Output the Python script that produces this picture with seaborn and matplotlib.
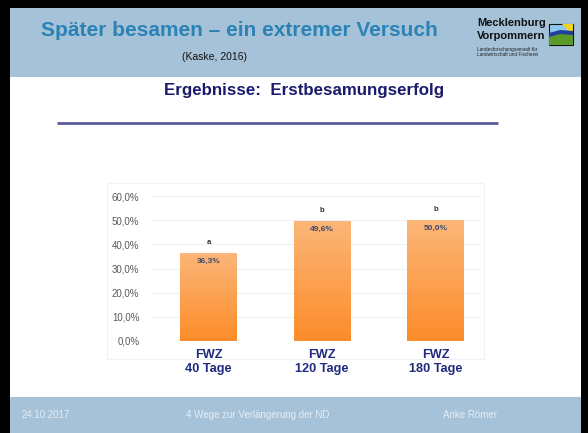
import numpy as np
import pandas as pd
import matplotlib
matplotlib.use("Agg")
import matplotlib.pyplot as plt
from matplotlib.patches import Rectangle, Polygon
from matplotlib.colors import LinearSegmentedColormap
from matplotlib.transforms import blended_transform_factory
import seaborn as sns

# Erstbesamungserfolg nach freiwilliger Wartezeit (FWZ)
categories = ["FWZ\n40 Tage", "FWZ\n120 Tage", "FWZ\n180 Tage"]
success = [36.3, 49.6, 50.0]
value_labels = ["36,3%", "49,6%", "50,0%"]
sig_letters = ["a", "b", "b"]
y_ticks = [0, 10, 20, 30, 40, 50, 60]
y_tick_labels = ["0,0%", "10,0%", "20,0%", "30,0%", "40,0%", "50,0%", "60,0%"]

sns.set_style("white")
plt.rcParams["font.family"] = ["Liberation Sans", "DejaVu Sans"]

W, H = 588, 433
fig = plt.figure(figsize=(W / 100, H / 100), dpi=100, facecolor="black")

# slide background, header and footer bands (pixel coordinates)
bg = fig.add_axes([0, 0, 1, 1], zorder=0)
bg.set_xlim(0, W)
bg.set_ylim(H, 0)
bg.axis("off")
band = "#a5c2d8"
bg.add_patch(Rectangle((10, 8), 571, H - 8, facecolor="white", edgecolor="none"))
bg.add_patch(Rectangle((10, 8), 571, 69, facecolor=band, edgecolor="none"))
bg.add_patch(Rectangle((10, 397), 571, H - 397, facecolor=band, edgecolor="none"))

bg.text(239, 31, "Später besamen – ein extremer Versuch", ha="center", va="center",
        fontsize=15, fontweight="bold", color="#2b82b4")
bg.text(215, 57, "(Kaske, 2016)", ha="center", va="center", fontsize=7.5, color="#111111")

# logo
bg.text(477, 23, "Mecklenburg", ha="left", va="center", fontsize=8, fontweight="bold", color="#111111")
bg.text(477, 36, "Vorpommern", ha="left", va="center", fontsize=8, fontweight="bold", color="#111111")
bg.text(477, 49, "Landesforschungsanstalt für", ha="left", va="center", fontsize=3.4, color="#222222")
bg.text(477, 54, "Landwirtschaft und Fischerei", ha="left", va="center", fontsize=3.4, color="#222222")
bg.add_patch(Rectangle((549, 24), 24, 21, facecolor="#8ec8ee", edgecolor="#111111", lw=0.8))
bg.add_patch(Polygon([(562, 24), (573, 24), (573, 36)], facecolor="#f2d21b", edgecolor="none"))
bg.add_patch(Polygon([(549, 36), (560, 33), (573, 34), (573, 45), (549, 45)], facecolor="#5a9a2a", edgecolor="none"))
bg.add_patch(Polygon([(549, 33), (560, 30), (573, 31), (573, 35), (560, 34), (549, 37)], facecolor="#1f3f9a", edgecolor="none"))

bg.text(304, 90, "Ergebnisse:  Erstbesamungserfolg", ha="center", va="center",
        fontsize=12.2, fontweight="bold", color="#1b1b6e")
bg.plot([57, 498], [123, 123], color="#5b5b9f", lw=2, solid_capstyle="butt")

# faint chart frame
bg.add_patch(Rectangle((107, 183), 377, 176, facecolor="none", edgecolor="#eef2f7", lw=0.8))

foot = "#e6eef5"
bg.text(22, 415, "24.10.2017", ha="left", va="center", fontsize=7, color=foot)
bg.text(258, 415, "4 Wege zur Verlängerung der ND", ha="center", va="center", fontsize=7, color=foot)
bg.text(470, 415, "Anke Römer", ha="center", va="center", fontsize=7, color=foot)

# bar chart
ax = fig.add_axes([152 / W, (H - 341) / H, 328 / W, 145 / H], zorder=2)
ax.patch.set_alpha(0)
df = pd.DataFrame({"cat": categories, "val": success})
sns.barplot(data=df, x="cat", y="val", ax=ax, color="#fca35a", width=0.5,
            edgecolor="none", saturation=1)

ax.set_ylim(0, 60)
ax.set_xlim(-0.498, 2.392)
ax.set_yticks(y_ticks)
ax.set_yticklabels(y_tick_labels, fontsize=7, color="#595959")
ax.set_xticks(range(len(categories)))
ax.set_xticklabels([])
ax.tick_params(axis="y", length=0, pad=9)
ax.tick_params(axis="x", length=0)
ax.set_xlabel("")
ax.set_ylabel("")
for s in ax.spines.values():
    s.set_visible(False)
ax.grid(axis="y", color="#eef0f4", lw=0.8)
ax.set_axisbelow(True)

# category labels below the bars
trans = blended_transform_factory(ax.transData, ax.transAxes)
for i, cat in enumerate(categories):
    ax.text(i, -0.055, cat, transform=trans, ha="center", va="top", fontsize=9.2,
            fontweight="bold", color="#1f2a7c", linespacing=1.2)

# vertical orange gradient inside each bar
cmap = LinearSegmentedColormap.from_list("bar", ["#fd8c2a", "#fbb678"])
grad = np.linspace(0, 1, 256).reshape(-1, 1)
for p in ax.patches:
    x0, w, h = p.get_x(), p.get_width(), p.get_height()
    im = ax.imshow(grad, extent=[x0, x0 + w, 0, h], origin="lower", cmap=cmap,
                   aspect="auto", zorder=p.get_zorder() + 0.1)
    im.set_clip_path(p)

ax.set_xlim(-0.498, 2.392)
ax.set_ylim(0, 60)

for i, (v, lbl, sig) in enumerate(zip(success, value_labels, sig_letters)):
    ax.annotate(lbl, (i, v), xytext=(0, -6), textcoords="offset points", ha="center",
                va="center", fontsize=6, fontweight="bold", color="#3c4a70", zorder=5)
    ax.annotate(sig, (i, v), xytext=(0, 8), textcoords="offset points", ha="center",
                va="center", fontsize=5.6, fontweight="bold", color="#333333", zorder=5)

fig.savefig("out.png", dpi=100, facecolor="black")
